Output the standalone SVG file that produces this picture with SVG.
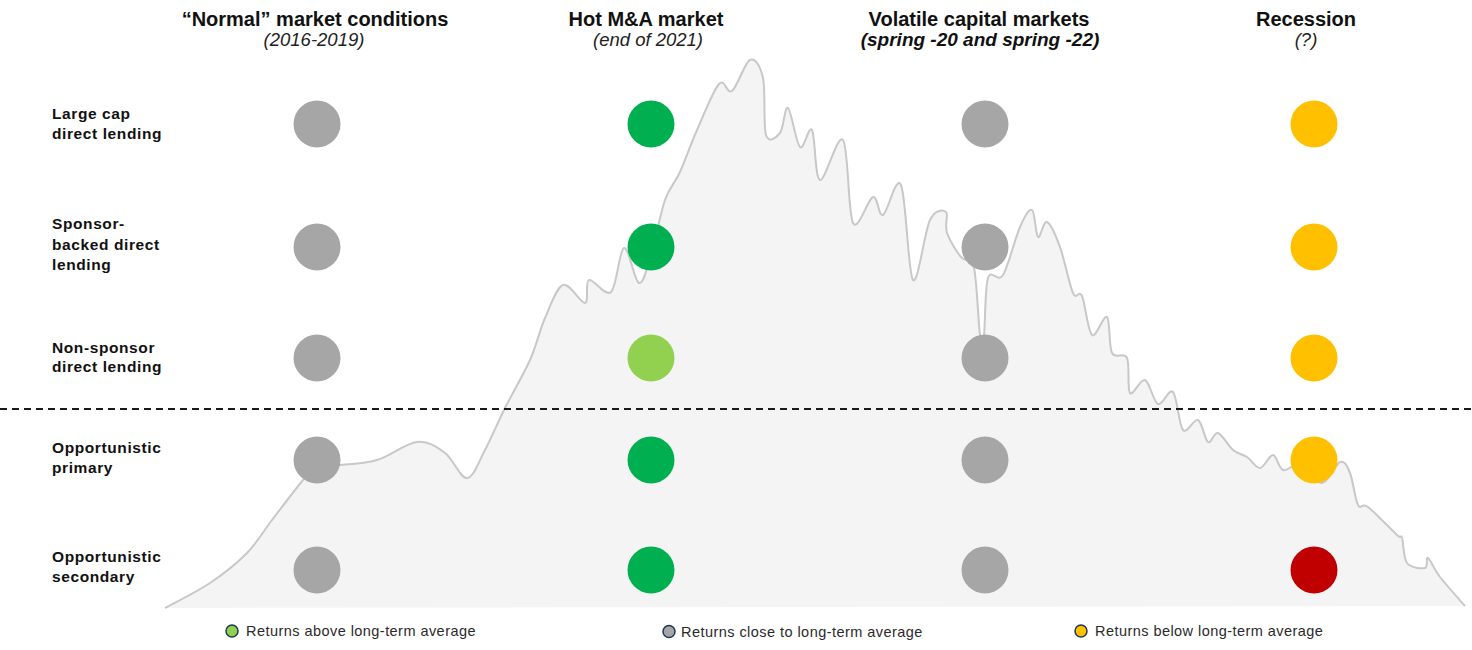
<svg xmlns="http://www.w3.org/2000/svg" width="1472" height="650" viewBox="0 0 1472 650">
<style>
.hd{font-family:"Liberation Sans",Arial,sans-serif;font-weight:bold;font-size:20px;fill:#111;text-anchor:middle}
.sub{font-family:"Liberation Sans",Arial,sans-serif;font-style:italic;font-size:18.5px;fill:#222;text-anchor:middle}
.subb{font-family:"Liberation Sans",Arial,sans-serif;font-style:italic;font-weight:bold;font-size:19px;fill:#111;text-anchor:middle}
.lbl{font-family:"Liberation Sans",Arial,sans-serif;font-weight:bold;font-size:15.5px;letter-spacing:0.6px;fill:#111}
.leg{font-family:"Liberation Sans",Arial,sans-serif;font-size:14.5px;letter-spacing:0.45px;fill:#2a2a2a}
.g{fill:#a6a6a6}.dg{fill:#00b050}.lg{fill:#92d050}.y{fill:#ffc000}.r{fill:#c00000}
.lc{stroke:#1f3a56;stroke-width:1.5}
</style>
<rect width="1472" height="650" fill="#ffffff"/>
<g id="chart">
<path fill="#f4f4f4" stroke="#c8c8c8" stroke-width="2" stroke-linejoin="round" d="M165,608 C172.5,603.8 196.3,592.2 210,583 C223.7,573.8 236.7,563.5 247,553 C257.3,542.5 262.7,532.2 272,520 C281.3,507.8 295.5,489.2 303,480 C310.5,470.8 310.8,467.5 317,465 C323.2,462.5 330,465.8 340,465 C350,464.2 364.2,463.8 377,460 C389.8,456.2 405.7,443.2 417,442 C428.3,440.8 436.7,447 445,453 C453.3,459 460.3,478.5 467,478 C473.7,477.5 478.7,461.7 485,450 C491.3,438.3 497.5,423 505,408 C512.5,393 523.3,375 530,360 C536.7,345 539.5,330.5 545,318 C550.5,305.5 556.3,287.5 563,285 C569.7,282.5 580.7,303.8 585,303 C589.3,302.2 584.7,281.8 589,280 C593.3,278.2 605.2,297.3 611,292 C616.8,286.7 619.3,249.5 624,248 C628.7,246.5 634.5,281.8 639,283 C643.5,284.2 646.7,268.8 651,255 C655.3,241.2 660.2,213.8 665,200 C669.8,186.2 674.7,183.7 680,172 C685.3,160.3 690.5,144.7 697,130 C703.5,115.3 713.2,90.5 719,84 C724.8,77.5 726.8,95 732,91 C737.2,87 744.8,62.2 750,60 C755.2,57.8 760.3,65.5 763,78 C765.7,90.5 763.2,125.8 766,135 C768.8,144.2 776.3,137.5 780,133 C783.7,128.5 784.7,105.7 788,108 C791.3,110.3 796,143.3 800,147 C804,150.7 808.7,124.5 812,130 C815.3,135.5 814.8,178.3 820,180 C825.2,181.7 837.5,132.8 843,140 C848.5,147.2 848,213.5 853,223 C858,232.5 868,198.3 873,197 C878,195.7 878.3,217 883,215 C887.7,213 896,174.2 901,185 C906,195.8 908.2,274.2 913,280 C917.8,285.8 924.5,231.3 930,220 C935.5,208.7 943.2,209.8 946,212 C948.8,214.2 944.3,225.3 947,233 C949.7,240.7 957.2,253.2 962,258 C966.8,262.8 971,255.2 974,268 C977,280.8 978.3,323.8 980,335 C981.7,346.2 982.7,344.5 984,335 C985.3,325.5 984.8,288 988,278 C991.2,268 997.7,283.5 1003,275 C1008.3,266.5 1015.2,237.8 1020,227 C1024.8,216.2 1029,208.3 1032,210 C1035,211.7 1035.5,235 1038,237 C1040.5,239 1043.3,220.3 1047,222 C1050.7,223.7 1055.7,235.2 1060,247 C1064.3,258.8 1069.3,284.8 1073,293 C1076.7,301.2 1078.8,289 1082,296 C1085.2,303 1087.8,331.5 1092,335 C1096.2,338.5 1103.7,314 1107,317 C1110.3,320 1108.7,346.2 1112,353 C1115.3,359.8 1124,351.3 1127,358 C1130,364.7 1127,389.3 1130,393 C1133,396.7 1140.3,378.2 1145,380 C1149.7,381.8 1153.3,402 1158,404 C1162.7,406 1168.8,387.7 1173,392 C1177.2,396.3 1178.8,425.3 1183,430 C1187.2,434.7 1193.8,418 1198,420 C1202.2,422 1204.7,439.8 1208,442 C1211.3,444.2 1213.8,431.7 1218,433 C1222.2,434.3 1228.2,446 1233,450 C1237.8,454 1242.5,454 1247,457 C1251.5,460 1255.7,468.3 1260,468 C1264.3,467.7 1269.2,454.7 1273,455 C1276.8,455.3 1278.5,468.3 1283,470 C1287.5,471.7 1293.5,462.8 1300,465 C1306.5,467.2 1315.3,483.5 1322,483 C1328.7,482.5 1335.3,463.7 1340,462 C1344.7,460.3 1347,465.8 1350,473 C1353,480.2 1355,499.3 1358,505 C1361,510.7 1361.5,502 1368,507 C1374.5,512 1391.3,529.8 1397,535 C1402.7,540.2 1400.3,533.3 1402,538 C1403.7,542.7 1403.2,558 1407,563 C1410.8,568 1421.5,568.8 1425,568 C1428.5,567.2 1425.5,556.5 1428,558 C1430.5,559.5 1433.8,569 1440,577 C1446.2,585 1460.8,601.2 1465,606"/>
</g>
<g id="connectors">
<line x1="0" y1="409" x2="1472" y2="409" stroke="#1a1a1a" stroke-width="1.8" stroke-dasharray="7 5"/>
</g>
<g id="headers">
<g id="col-normal"><text class="hd" x="315" y="26">“Normal” market conditions</text><text class="sub" x="314" y="46">(2016-2019)</text></g>
<g id="col-hot"><text class="hd" x="646" y="26">Hot M&amp;A market</text><text class="sub" x="648" y="46">(end of 2021)</text></g>
<g id="col-volatile"><text class="hd" x="979" y="26">Volatile capital markets</text><text class="subb" x="980" y="46">(spring -20 and spring -22)</text></g>
<g id="col-recession"><text class="hd" x="1306" y="26">Recession</text><text class="sub" x="1306" y="46">(?)</text></g>
</g>
<g id="rows">
<g id="row-largecap"><text class="lbl" x="52" y="119">Large cap</text><text class="lbl" x="52" y="139">direct lending</text></g>
<g id="row-sponsor"><text class="lbl" x="52" y="229">Sponsor-</text><text class="lbl" x="52" y="249.5">backed direct</text><text class="lbl" x="52" y="270">lending</text></g>
<g id="row-nonsponsor"><text class="lbl" x="52" y="353">Non-sponsor</text><text class="lbl" x="52" y="372">direct lending</text></g>
<g id="row-opp-primary"><text class="lbl" x="52" y="453">Opportunistic</text><text class="lbl" x="52" y="473">primary</text></g>
<g id="row-opp-secondary"><text class="lbl" x="52" y="562">Opportunistic</text><text class="lbl" x="52" y="582">secondary</text></g>
</g>
<g id="dots">
<g id="dots-normal">
<circle class="g" cx="317" cy="124" r="23.5"/><circle class="g" cx="317" cy="247" r="23.5"/><circle class="g" cx="317" cy="358" r="23.5"/><circle class="g" cx="317" cy="460" r="23.5"/><circle class="g" cx="317" cy="570" r="23.5"/>
</g>
<g id="dots-hot">
<circle class="dg" cx="651" cy="124" r="23.5"/><circle class="dg" cx="651" cy="247" r="23.5"/><circle class="lg" cx="651" cy="358" r="23.5"/><circle class="dg" cx="651" cy="460" r="23.5"/><circle class="dg" cx="651" cy="570" r="23.5"/>
</g>
<g id="dots-volatile">
<circle class="g" cx="985" cy="124" r="23.5"/><circle class="g" cx="985" cy="247" r="23.5"/><circle class="g" cx="985" cy="358" r="23.5"/><circle class="g" cx="985" cy="460" r="23.5"/><circle class="g" cx="985" cy="570" r="23.5"/>
</g>
<g id="dots-recession">
<circle class="y" cx="1314" cy="124" r="23.5"/><circle class="y" cx="1314" cy="247" r="23.5"/><circle class="y" cx="1314" cy="358" r="23.5"/><circle class="y" cx="1314" cy="460" r="23.5"/><circle class="r" cx="1314" cy="570" r="23.5"/>
</g>
</g>
<g id="legend">
<g id="legend-above"><circle class="lg lc" cx="232" cy="631" r="6"/><text class="leg" x="246" y="636">Returns above long-term average</text></g>
<g id="legend-close"><circle class="g lc" cx="669" cy="631.5" r="6"/><text class="leg" x="681" y="636.5">Returns close to long-term average</text></g>
<g id="legend-below"><circle class="y lc" cx="1081" cy="631" r="6"/><text class="leg" x="1095" y="636">Returns below long-term average</text></g>
</g>
</svg>
